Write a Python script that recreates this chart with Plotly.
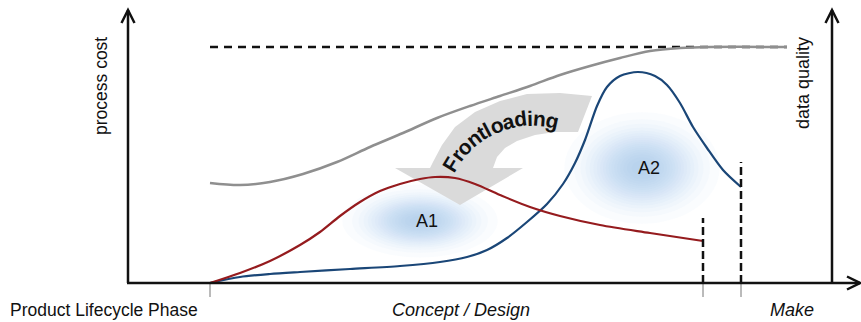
import math
import plotly.graph_objects as go

# Position along the product lifecycle (x) and relative level above the baseline (y)
frontloaded_x = [0, 30, 60, 90, 110, 130, 150, 170, 190, 210, 225, 245, 265, 290, 320, 350, 390, 440, 493]
frontloaded_y = [0, 10, 22, 38, 51, 67, 81, 92, 99, 104, 106, 105, 99, 88, 76, 67, 58, 50, 42]

classic_x = [0, 30, 60, 90, 140, 190, 230, 257, 277, 297, 317, 337, 353, 365, 375, 387, 397, 410,
             428, 445, 457, 470, 483, 497, 513, 531]
classic_y = [0, 6, 9, 11, 14, 17, 21, 26, 33, 45, 61, 79, 99, 120, 143, 177, 196, 207,
             211, 207, 198, 180, 156, 135, 113, 96]

quality_x = [0, 30, 60, 93, 127, 160, 193, 227, 260, 290, 320, 350, 380, 410, 440, 470, 500, 577]
quality_y = [100, 98, 101, 109, 121, 136, 150, 165, 177, 187, 197, 208, 217, 225, 232, 235, 236, 236]

quality_target = 236

# Phase boundaries on the lifecycle axis and the phase captions
phase_bounds = [0, 493, 531]
phase_ends = [65, 121]          # height of the dashed marker at each phase end
phase_labels = ["Concept / Design", "Make"]
phase_label_x = [251, 582]

# Effort areas (centre x, centre y, spread x, spread y)
area_names = ["A1", "A2"]
area_cx = [210, 432]
area_cy = [62, 115]
area_sx = [32, 32]
area_sy = [15, 23]

FONT = "Liberation Sans, Arial, sans-serif"
INK = "#111111"

fig = go.Figure()

shapes = []

# soft blue clouds behind the area labels (stacked ellipses approximating a gaussian glow)
layers = 19
for cx, cy, sx, sy in zip(area_cx, area_cy, area_sx, area_sy):
    for k in range(1, layers):
        s = math.sqrt(2 * math.log(layers / k))
        shapes.append(dict(type="circle", xref="x", yref="y", layer="below",
                           x0=cx - sx * s, x1=cx + sx * s, y0=cy - sy * s, y1=cy + sy * s,
                           fillcolor="rgb(140,182,232)", opacity=0.042, line_width=0))

# curved "Frontloading" arrow band
band = [(382, 187), (350, 190), (317, 189), (290, 182), (265, 171), (245, 156), (232, 138),
        (223, 121), (220, 115), (185, 115), (250, 78), (313, 115), (283, 115), (287, 126),
        (295, 135), (307, 142), (325, 148), (345, 151), (368, 151)]
path = "M " + " L ".join(f"{x},{y}" for x, y in band) + " Z"
shapes.append(dict(type="path", xref="x", yref="y", layer="below", path=path,
                   fillcolor="#dadada", line_width=0))

# dashed target level for data quality
shapes.append(dict(type="line", xref="x", yref="y", layer="below",
                   x0=quality_x[0], x1=quality_x[-1], y0=quality_target, y1=quality_target,
                   line=dict(color=INK, width=2.5, dash="8px,6px")))

# phase end markers and ticks
for xb, top in zip(phase_bounds[1:], phase_ends):
    shapes.append(dict(type="line", xref="x", yref="y", x0=xb, x1=xb, y0=0, y1=top,
                       line=dict(color=INK, width=2.5, dash="8px,4px")))
for xb in phase_bounds:
    shapes.append(dict(type="line", xref="x", yref="y", x0=xb, x1=xb, y0=0, y1=-14,
                       line=dict(color="#777777", width=1)))

# axes with open arrowheads
axis_style = dict(color=INK, width=2.5)
shapes += [
    dict(type="line", xref="x", yref="y", x0=-82, x1=-82, y0=0, y1=273, line=axis_style),
    dict(type="path", xref="x", yref="y", path="M -88.5,260 L -82,273 L -75.5,260", line=axis_style),
    dict(type="line", xref="x", yref="y", x0=622, x1=622, y0=0, y1=273, line=axis_style),
    dict(type="path", xref="x", yref="y", path="M 615.5,260 L 622,273 L 628.5,260", line=axis_style),
    dict(type="line", xref="x", yref="y", x0=-83, x1=650, y0=0, y1=0, line=axis_style),
    dict(type="path", xref="x", yref="y", path="M 637,6.5 L 650,0 L 637,-6.5", line=axis_style),
]

fig.add_trace(go.Scatter(x=quality_x, y=quality_y, mode="lines",
                         line=dict(color="#8f8f8f", width=2.5, shape="spline", smoothing=0.9),
                         hoverinfo="skip"))
fig.add_trace(go.Scatter(x=classic_x, y=classic_y, mode="lines",
                         line=dict(color="#1a4677", width=2.2, shape="spline", smoothing=0.8),
                         hoverinfo="skip"))
fig.add_trace(go.Scatter(x=frontloaded_x, y=frontloaded_y, mode="lines",
                         line=dict(color="#951b1e", width=2.2, shape="spline", smoothing=0.9),
                         hoverinfo="skip"))

annotations = []

def label(x, y, text, size=18, angle=0, italic=False, bold=False, anchor="center"):
    t = text
    if bold:
        t = f"<b>{t}</b>"
    if italic:
        t = f"<i>{t}</i>"
    annotations.append(dict(x=x, y=y, xref="x", yref="y", text=t, showarrow=False,
                            textangle=angle, xanchor=anchor, yanchor="middle",
                            font=dict(family=FONT, size=size, color=INK)))

label(-109, 197, "process cost", size=17.5, angle=-90)
label(593, 200, "data quality", size=18, angle=-90)
label(-10, -27, "Product Lifecycle Phase", size=17.5, anchor="right")
for txt, xl in zip(phase_labels, phase_label_x):
    label(xl, -27, txt, italic=True)
for name, cx, cy in zip(area_names, area_cx, area_cy):
    label(cx + 7, cy, name)

# "Frontloading" set letter by letter along an arc
word = "Frontloading"
widths = {"F": 611, "r": 389, "o": 611, "n": 611, "t": 333, "l": 278, "a": 556,
          "d": 611, "i": 278, "g": 611}
centres = []
acc = 0
for ch in word:
    centres.append(acc + widths[ch] / 2)
    acc += widths[ch]
arc_cx, arc_cy, arc_r = 322, 70, 95
a0, a1 = -59.0, 12.5
for ch, c in zip(word, centres):
    ang = a0 + (a1 - a0) * (c - centres[0]) / (centres[-1] - centres[0])
    rad = math.radians(ang)
    label(arc_cx + arc_r * math.sin(rad), arc_cy + arc_r * math.cos(rad), ch,
          size=21, angle=ang, bold=True)

fig.update_layout(
    width=861, height=322,
    margin=dict(l=0, r=0, t=0, b=0),
    paper_bgcolor="white", plot_bgcolor="white",
    showlegend=False,
    xaxis=dict(range=[-210, 651], visible=False, fixedrange=True),
    yaxis=dict(range=[-39, 283], visible=False, fixedrange=True),
    shapes=shapes,
    annotations=annotations,
)

fig.write_html("out.html")
